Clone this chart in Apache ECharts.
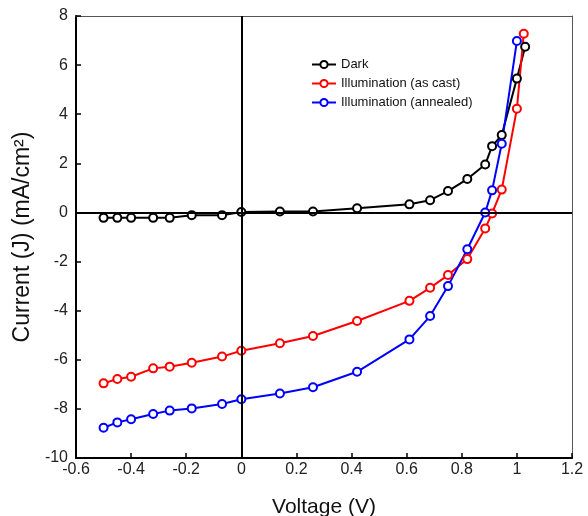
<!DOCTYPE html>
<html>
<head>
<meta charset="utf-8">
<script src="https://cdn.jsdelivr.net/npm/echarts@6/dist/echarts.min.js"></script>
<style>
html,body{margin:0;padding:0;background:#fff;}
#chart{width:588px;height:516px;}
</style>
</head>
<body>
<div id="chart"></div>
<script>
// Data
var seriesNames = ['Dark', 'Illumination (as cast)', 'Illumination (annealed)'];
var darkV = [-0.5, -0.45, -0.4, -0.32, -0.26, -0.18, -0.07, 0.0, 0.14, 0.26, 0.42, 0.61, 0.685, 0.75, 0.82, 0.885, 0.91, 0.945, 1.0, 1.03];
var darkJ = [-0.22, -0.22, -0.22, -0.22, -0.22, -0.11, -0.11, 0.02, 0.04, 0.04, 0.17, 0.33, 0.5, 0.87, 1.36, 1.95, 2.7, 3.15, 5.45, 6.75];
var castV = [-0.5, -0.45, -0.4, -0.32, -0.26, -0.18, -0.07, 0.0, 0.14, 0.26, 0.42, 0.61, 0.685, 0.75, 0.82, 0.885, 0.91, 0.945, 1.0, 1.025];
var castJ = [-6.96, -6.78, -6.69, -6.35, -6.28, -6.12, -5.87, -5.63, -5.33, -5.03, -4.42, -3.6, -3.07, -2.55, -1.9, -0.65, -0.04, 0.93, 4.22, 7.28];
var annV = [-0.5, -0.45, -0.4, -0.32, -0.26, -0.18, -0.07, 0.0, 0.14, 0.26, 0.42, 0.61, 0.685, 0.75, 0.82, 0.885, 0.91, 0.945, 1.0];
var annJ = [-8.77, -8.55, -8.42, -8.21, -8.07, -7.98, -7.8, -7.61, -7.37, -7.12, -6.49, -5.17, -4.22, -3.0, -1.5, 0.0, 0.9, 2.8, 6.98];
var xMin = -0.6, xMax = 1.2, xStep = 0.2;
var yMin = -10, yMax = 8, yStep = 2;
var xTitle = 'Voltage (V)';
var yTitle = 'Current (J) (mA/cm²)';

function pairs(xs, ys) { return xs.map(function (x, i) { return [x, ys[i]]; }); }

var font = 'Arial, "Liberation Sans", sans-serif';
var colors = ['#000000', '#ff0000', '#0000ff'];

function lineSeries(name, data, color) {
  return {
    name: name, type: 'line', data: data,
    symbol: 'emptyCircle', symbolSize: 8, showSymbol: true,
    lineStyle: { color: color, width: 2 },
    itemStyle: { color: color, borderWidth: 1.5 },
    emphasis: { disabled: true },
    z: 3
  };
}

var chart = echarts.init(document.getElementById('chart'), null, { renderer: 'canvas' });
chart.setOption({
  animation: false,
  backgroundColor: '#ffffff',
  textStyle: { fontFamily: font },
  grid: { left: 76, right: 16, top: 16, bottom: 58, containLabel: false, outerBoundsMode: 'none' },
  legend: {
    orient: 'vertical', left: 306, top: 53,
    itemWidth: 24, itemHeight: 9, itemGap: 6,
    data: seriesNames,
    textStyle: { fontFamily: font, fontSize: 13, color: '#111' }
  },
  xAxis: [{
    type: 'value', min: xMin, max: xMax, interval: xStep,
    name: xTitle, nameLocation: 'middle', nameGap: 39,
    nameTextStyle: { fontFamily: font, fontSize: 21, color: '#111' },
    axisLine: { onZero: false, lineStyle: { color: '#000', width: 2 } },
    axisTick: { inside: true, length: 5, lineStyle: { color: '#000', width: 1.5 } },
    axisLabel: { margin: 4, fontSize: 16, color: '#222', fontFamily: font,
      formatter: function (v) { return String(Math.round(v * 10) / 10); } },
    splitLine: { show: false }
  }, {
    type: 'value', position: 'top', min: xMin, max: xMax,
    axisLine: { show: true, onZero: false, lineStyle: { color: '#555', width: 1 } },
    axisTick: { show: false }, axisLabel: { show: false }, splitLine: { show: false }
  }],
  yAxis: [{
    type: 'value', min: yMin, max: yMax, interval: yStep,
    name: yTitle, nameLocation: 'middle', nameGap: 38,
    nameTextStyle: { fontFamily: font, fontSize: 23, color: '#111' },
    axisLine: { onZero: false, lineStyle: { color: '#000', width: 2 } },
    axisTick: { inside: true, length: 5, lineStyle: { color: '#000', width: 1.5 } },
    axisLabel: { margin: 8, fontSize: 16, color: '#222', fontFamily: font },
    splitLine: { show: false }
  }, {
    type: 'value', position: 'right', min: yMin, max: yMax,
    axisLine: { show: true, onZero: false, lineStyle: { color: '#555', width: 1 } },
    axisTick: { show: false }, axisLabel: { show: false }, splitLine: { show: false }
  }],
  series: [
    lineSeries(seriesNames[0], pairs(darkV, darkJ), colors[0]),
    lineSeries(seriesNames[1], pairs(castV, castJ), colors[1]),
    lineSeries(seriesNames[2], pairs(annV, annJ), colors[2]),
    {
      name: 'zero-lines', type: 'line', data: [], z: 5, silent: true,
      markLine: {
        silent: true, symbol: 'none', animation: false,
        label: { show: false },
        lineStyle: { color: '#000', width: 2, type: 'solid' },
        data: [{ xAxis: 0 }, { yAxis: 0 }]
      }
    }
  ]
});
</script>
</body>
</html>
